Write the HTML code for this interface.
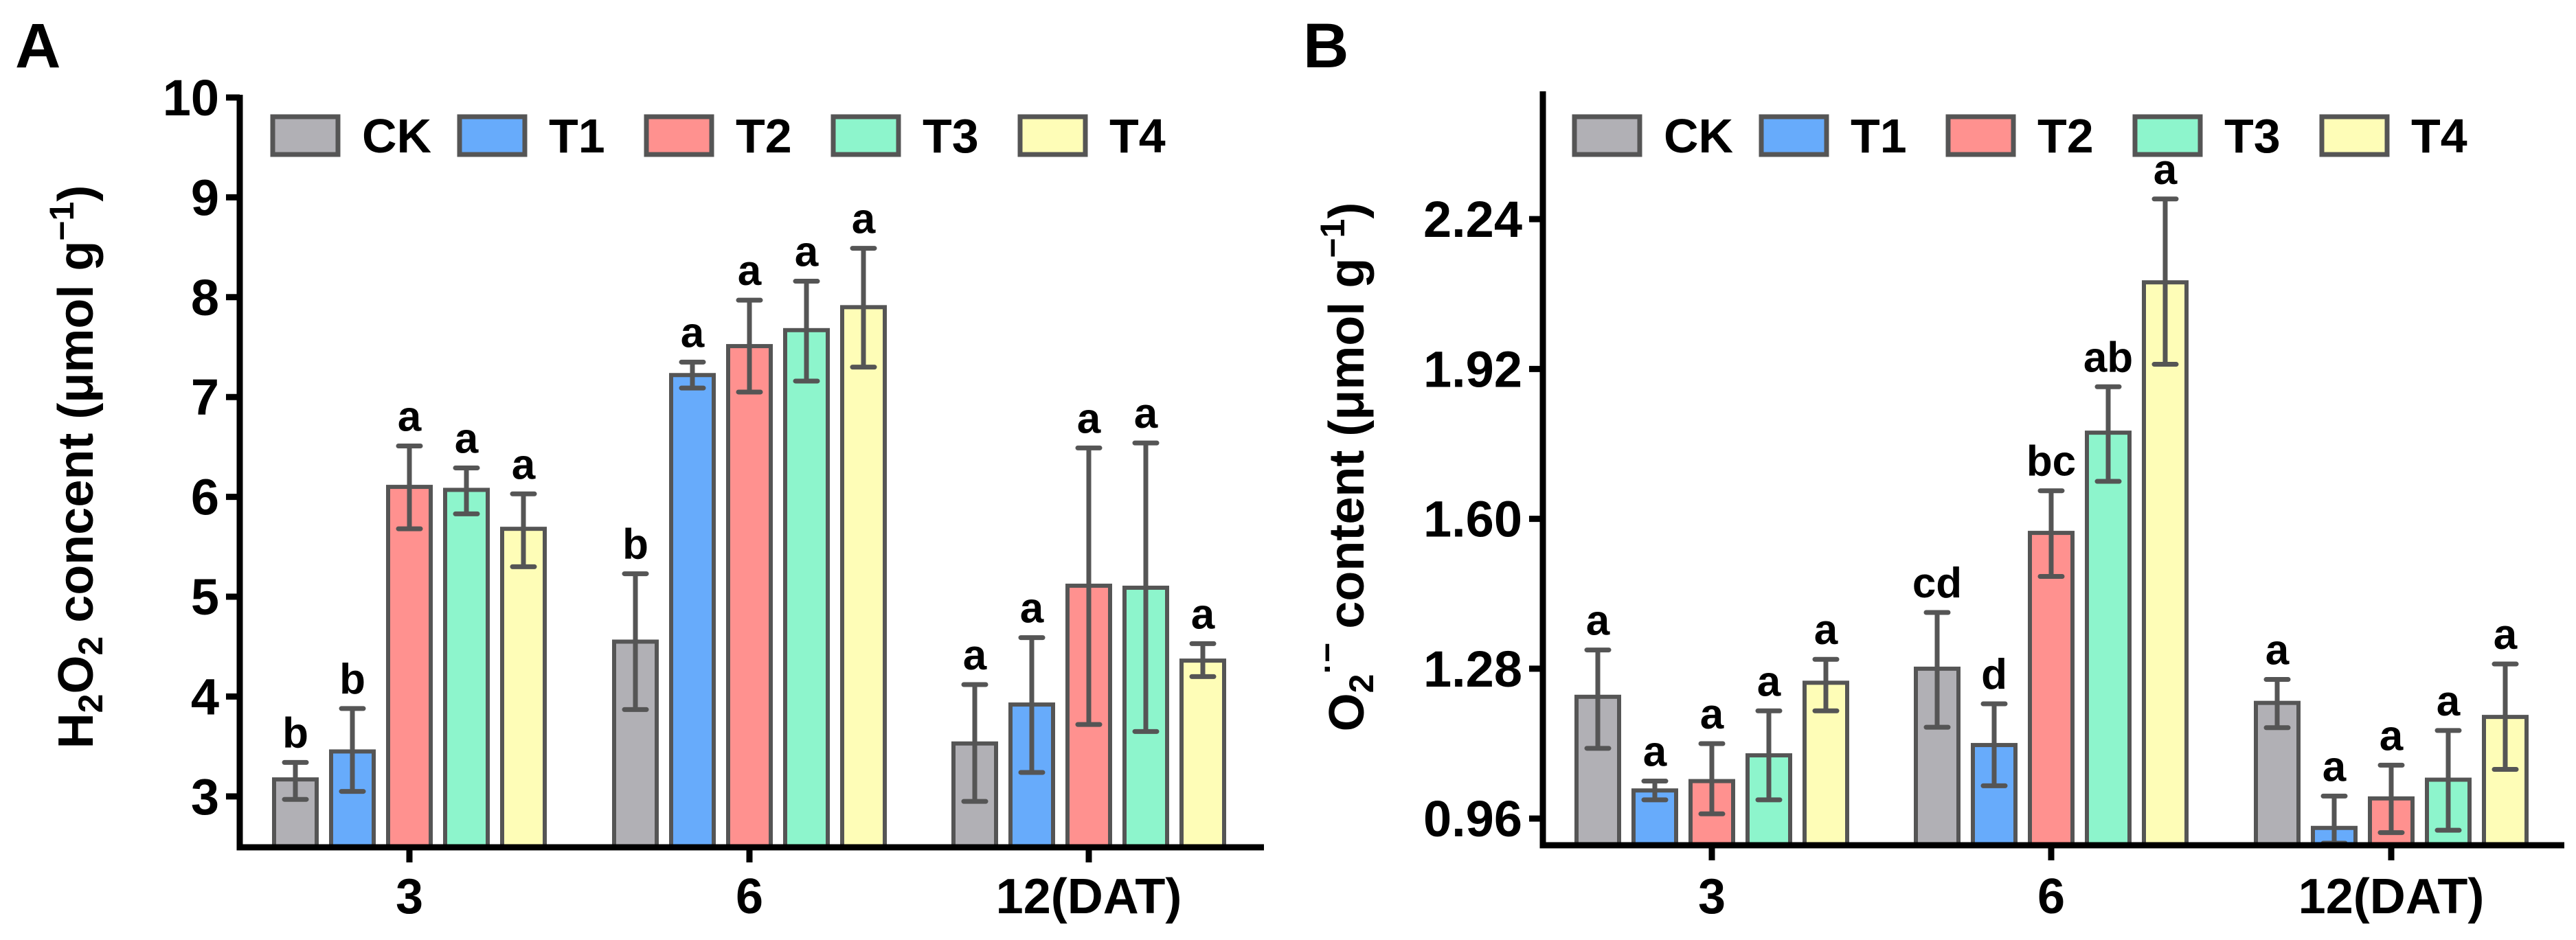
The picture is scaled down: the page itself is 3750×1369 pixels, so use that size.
<!DOCTYPE html>
<html><head><meta charset="utf-8"><style>
html,body{margin:0;padding:0;background:#fff}
svg text{font-family:"Liberation Sans",Arial,sans-serif;font-weight:bold;fill:#000}
</style></head><body>
<svg id="fig" width="3750" height="1364" viewBox="0 0 3750 1364" xmlns="http://www.w3.org/2000/svg">
<g id="panelA"></g>
<g id="panelB"></g>
</svg>
<script>
const groups = ["3", "6", "12(DAT)"];
const series = ["CK", "T1", "T2", "T3", "T4"];
const colors = ["#b1b0b5", "#67abfb", "#ff918f", "#8df5cc", "#fefdb7"];
// Panel A: H2O2
const aMean = [[3.17,3.45,6.10,6.07,5.68],[4.55,7.22,7.51,7.67,7.90],[3.53,3.92,5.11,5.09,4.36]];
const aHi   = [[3.34,3.88,6.51,6.29,6.03],[5.23,7.35,7.97,8.16,8.49],[4.12,4.59,6.49,6.54,4.53]];
const aLo   = [[2.97,3.05,5.68,5.83,5.30],[3.87,7.09,7.05,7.16,7.30],[2.95,3.24,3.72,3.65,4.20]];
const aLetters = [["b","b","a","a","a"],["b","a","a","a","a"],["a","a","a","a","a"]];
const aTicks = [3,4,5,6,7,8,9,10];
const aTickLabels = ["3","4","5","6","7","8","9","10"];
// Panel B: O2.-
const bMean = [[1.22,1.02,1.04,1.095,1.25],[1.28,1.117,1.57,1.784,2.105],[1.207,0.94,1.003,1.043,1.177]];
const bHi   = [[1.32,1.04,1.12,1.19,1.30],[1.40,1.205,1.66,1.882,2.283],[1.257,1.008,1.074,1.148,1.29]];
const bLo   = [[1.11,1.00,0.97,1.00,1.19],[1.155,1.03,1.477,1.68,1.93],[1.154,0.88,0.93,0.935,1.065]];
const bLetters = [["a","a","a","a","a"],["cd","d","bc","ab","a"],["a","a","a","a","a"]];
const bTicks = [0.96,1.28,1.60,1.92,2.24];
const bTickLabels = ["0.96","1.28","1.60","1.92","2.24"];

const NS = "http://www.w3.org/2000/svg";
function mk(parent, tag, attrs, text){
  const e = document.createElementNS(NS, tag);
  for (const k in attrs) e.setAttribute(k, attrs[k]);
  if (text !== undefined) e.textContent = text;
  parent.appendChild(e);
  return e;
}

function drawPanel(g, cfg){
  const {x0, x1, yBase, yTop, vMin, vMax, gCenters, pitch, bw, mean, hi, lo, letters, ticks, tickLabels, legendX, letterTxt, letterX, titleX} = cfg;
  const ys = v => yBase - (v - vMin) / (vMax - vMin) * (yBase - yTop);
  const gray = "#555555";
  // bars
  for (let gi = 0; gi < groups.length; gi++){
    for (let si = 0; si < series.length; si++){
      const cx = gCenters[gi] + (si - 2) * pitch;
      const yv = ys(mean[gi][si]);
      const r = mk(g, "rect", {x: cx - bw/2, y: yv, width: bw, height: yBase - yv, fill: colors[si], stroke: gray, "stroke-width": 6});
      
      
      const yh = ys(hi[gi][si]), yl = Math.min(ys(lo[gi][si]), yBase - 3);
      const eb = mk(g, "path", {d: `M${cx},${yh}V${yl}M${cx-16},${yh}H${cx+16}M${cx-16},${yl}H${cx+16}`, stroke: gray, "stroke-width": 7, fill: "none", "stroke-linecap": "round"});
      
      
      const t = mk(g, "text", {x: cx, y: yh - 22, "text-anchor": "middle", "font-size": 62}, letters[gi][si]);
      
      
    }
  }
  // axes
  const ax = mk(g, "path", {d: `M${x0},${yTop-4}V${yBase}H${x1}`, stroke: "#000", "stroke-width": 9, fill: "none"});
  
  
  ticks.forEach((v, i) => {
    const y = ys(v);
    const tk = mk(g, "line", {x1: x0 - 20, x2: x0, y1: y, y2: y, stroke: "#000", "stroke-width": 9});
    
    
    const tl = mk(g, "text", {x: x0 - 30, y: y + 26, "text-anchor": "end", "font-size": 74}, tickLabels[i]);
    
    
  });
  groups.forEach((lab, gi) => {
    const x = gCenters[gi];
    const tk = mk(g, "line", {x1: x, x2: x, y1: yBase, y2: yBase + 22, stroke: "#000", "stroke-width": 9});
    
    
    const tl = mk(g, "text", {x: x, y: 1330, "text-anchor": "middle", "font-size": 72}, lab);
    
    
  });
  // legend
  series.forEach((s, si) => {
    const lx = legendX + si * 272;
    const lr = mk(g, "rect", {x: lx, y: 170, width: 95, height: 55, fill: colors[si], stroke: gray, "stroke-width": 7});
    
    
    const lt = mk(g, "text", {x: lx + 130, y: 222, "font-size": 70}, s);
    
    
  });
  const pl = mk(g, "text", {x: letterX, y: 98, "font-size": 92}, letterTxt);
  
  
  return ys;
}

const gA = document.getElementById("panelA");
drawPanel(gA, {x0: 349, x1: 1840, yBase: 1234, yTop: 142, vMin: 2.49, vMax: 10,
  gCenters: [596, 1091, 1585], pitch: 83, bw: 62, mean: aMean, hi: aHi, lo: aLo, letters: aLetters,
  ticks: aTicks, tickLabels: aTickLabels, legendX: 397, letterTxt: "A", letterX: 22});
const tA = mk(gA, "text", {transform: "translate(135,680) rotate(-90)", "text-anchor": "middle", "font-size": 72});


tA.innerHTML = 'H<tspan dy="14" font-size="50">2</tspan><tspan dy="-14">O</tspan><tspan dy="14" font-size="50">2</tspan><tspan dy="-14"> concent (μmol g</tspan><tspan dy="-28" font-size="50">−1</tspan><tspan dy="28">)</tspan>';

const gB = document.getElementById("panelB");
drawPanel(gB, {x0: 2246, x1: 3733, yBase: 1231, yTop: 137, vMin: 0.903, vMax: 2.507,
  gCenters: [2492, 2986, 3481], pitch: 83, bw: 62, mean: bMean, hi: bHi, lo: bLo, letters: bLetters,
  ticks: bTicks, tickLabels: bTickLabels, legendX: 2292, letterTxt: "B", letterX: 1897});
const tB = mk(gB, "text", {transform: "translate(1985,680) rotate(-90)", "text-anchor": "middle", "font-size": 72});


tB.innerHTML = 'O<tspan dy="14" font-size="50">2</tspan><tspan dy="-50" font-size="50">·−</tspan><tspan dy="36"> content (μmol g</tspan><tspan dy="-28" font-size="50">−1</tspan><tspan dy="28">)</tspan>';
</script>
</body></html>
